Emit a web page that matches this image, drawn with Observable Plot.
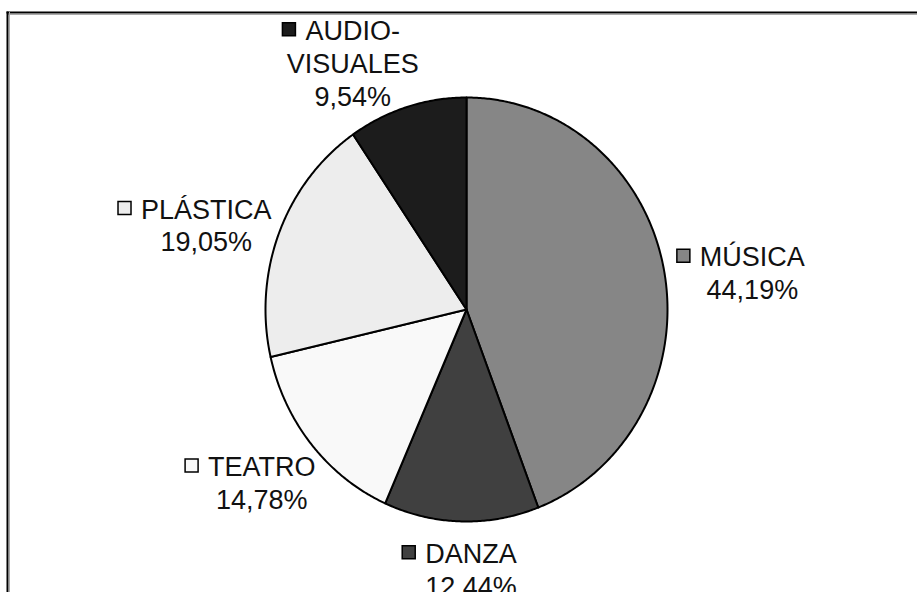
<!DOCTYPE html>
<html><head><meta charset="utf-8">
<script src="https://cdn.jsdelivr.net/npm/d3@7"></script>
<script src="https://cdn.jsdelivr.net/npm/@observablehq/plot@0.6"></script>
<style>body{margin:0;background:#fff}#chart svg{display:block}</style>
</head><body><div id="chart"></div>
<script>
// ---- data ----
const categories = ["MÚSICA", "DANZA", "TEATRO", "PLÁSTICA", "AUDIO-VISUALES"];
const labelNames = ["MÚSICA", "DANZA", "TEATRO", "PLÁSTICA", "AUDIO-\nVISUALES"];
const shares = [44.19, 12.44, 14.78, 19.05, 9.54];
const colors = ["#868686", "#404040", "#f9f9f9", "#ededed", "#1c1c1c"];

// ---- layout ----
const W = 917, H = 592;
const X0 = 265, X1 = 667, Y0 = 521, Y1 = 97;
const cx = (X0 + X1) / 2, cy = (Y0 + Y1) / 2, rx = (X1 - X0) / 2, ry = (Y0 - Y1) / 2;
const fontSize = 27, lh = 33, fontFamily = "'Liberation Sans', Arial, sans-serif";
const sq = 13, sqGap = 10, gap = 14, sideShift = 10, minTop = 12;

const fmt = v => d3.format(".2f")(v).replace(".", ",");
const total = d3.sum(shares);
let acc = 0;
const slices = categories.map((c, i) => {
  const a0 = acc / total * 2 * Math.PI; acc += shares[i];
  const a1 = acc / total * 2 * Math.PI;
  return {c, i, a0, a1, mid: (a0 + a1) / 2};
});

// slice outlines in data units (unit circle, stretched by scales)
const poly = [];
for (const s of slices) {
  poly.push({key: s.c, x: 0, y: 0});
  const n = Math.max(2, Math.ceil((s.a1 - s.a0) / (Math.PI / 360)));
  for (let k = 0; k <= n; k++) {
    const a = s.a0 + (s.a1 - s.a0) * k / n;
    poly.push({key: s.c, x: Math.sin(a), y: Math.cos(a)});
  }
  poly.push({key: s.c, x: 0, y: 0});
}

// label placement (outside the pie, Excel-like)
const ctx = document.createElement("canvas").getContext("2d");
ctx.font = `${fontSize}px 'Liberation Sans'`;
const measure = t => ctx.measureText(t).width;
const toX = px => (px - cx) / rx, toY = py => (cy - py) / ry;

const labels = slices.map(s => {
  const lines = labelNames[s.i].split("\n").concat([fmt(shares[s.i]) + "%"]);
  const widths = lines.map(measure);
  const maxW = d3.max(widths), firstW = widths[0];
  const L = Math.max(maxW / 2, firstW / 2 + sqGap + sq), R = maxW / 2;
  const w = L + R, h = lines.length * lh;
  const at = th => {
    const sn = Math.sin(th), cs = Math.cos(th);
    return [cx + (rx + gap + w / 2) * sn,
            cy - (ry + gap + h / 2) * cs + sideShift * Math.abs(sn)];
  };
  let th = s.mid, [bx, by] = at(th), guard = 0;
  while (by - h / 2 < minTop && guard++ < 720) {
    th += Math.sin(th) < 0 ? -Math.PI / 360 : Math.PI / 360;
    [bx, by] = at(th);
  }
  const tx = bx + (L - R) / 2;
  const firstY = by - (lines.length - 1) / 2 * lh;
  return {
    text: lines.join("\n"),
    x: toX(tx), y: toY(by),
    sx: toX(tx - firstW / 2 - sqGap - sq / 2), sy: toY(firstY),
    color: colors[s.i]
  };
});

const marks = [
  Plot.frame({anchor: "top", stroke: "#000", strokeWidth: 2}),
  Plot.frame({anchor: "top", stroke: "#aaa", strokeWidth: 1, dy: 2}),
  Plot.frame({anchor: "left", stroke: "#000", strokeWidth: 2}),
  Plot.frame({anchor: "left", stroke: "#aaa", strokeWidth: 1, dx: 2})
];
slices.forEach(s => {
  marks.push(Plot.line(poly.filter(d => d.key === s.c), {
    x: "x", y: "y", fill: colors[s.i], stroke: "#000", strokeWidth: 2, strokeLinejoin: "round"
  }));
});
marks.push(Plot.text(labels, {
  x: "x", y: "y", text: "text", fontSize, lineHeight: lh / fontSize,
  lineAnchor: "middle", textAnchor: "middle", fill: "#111"
}));
marks.push(Plot.dot(labels, {
  x: "sx", y: "sy", symbol: "square", r: sq / Math.sqrt(Math.PI),
  fill: "color", stroke: "#000", strokeWidth: 1.5
}));

const chart = Plot.plot({
  width: W, height: H,
  marginTop: 12, marginLeft: 7, marginRight: 0, marginBottom: 0,
  x: {domain: [-1, 1], range: [X0, X1], axis: null},
  y: {domain: [-1, 1], range: [Y0, Y1], axis: null},
  color: {type: "identity"},
  style: {fontFamily, background: "#fff", overflow: "hidden"},
  marks
});
document.getElementById("chart").append(chart);
</script>
</body></html>
